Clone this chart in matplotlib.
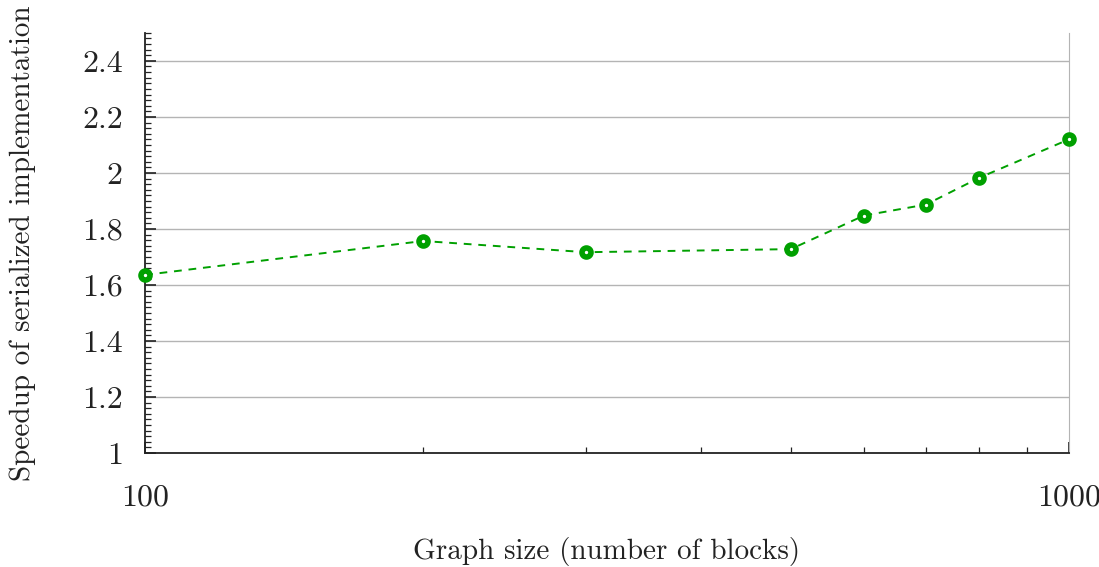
import matplotlib.pyplot as plt
from matplotlib.ticker import FixedLocator, FixedFormatter, MultipleLocator, NullFormatter

plt.rcParams['font.family'] = 'serif'
plt.rcParams['font.serif'] = ['cmr10', 'DejaVu Serif']
plt.rcParams['axes.formatter.use_mathtext'] = True
plt.rcParams['mathtext.fontset'] = 'cm'

# Speedup measured per graph size
graph_size = [100, 200, 300, 500, 600, 700, 800, 1000]
speedup = [1.636, 1.757, 1.717, 1.728, 1.848, 1.887, 1.983, 2.120]

y_ticks = [1, 1.2, 1.4, 1.6, 1.8, 2, 2.2, 2.4]
y_tick_labels = ['1', '1.2', '1.4', '1.6', '1.8', '2', '2.2', '2.4']
x_ticks = [100, 1000]
x_tick_labels = ['100', '1000']
x_minor = [200, 300, 400, 500, 600, 700, 800, 900]

green = '#00a000'
dark = '#222222'

fig = plt.figure(figsize=(10.99, 5.67), dpi=100)
ax = fig.add_axes([0.132, 0.201, 0.8407, 0.741])

ax.plot(graph_size, speedup, linestyle=(0, (4, 3.5)), color=green, linewidth=1.4,
        marker='o', markersize=6.5, markerfacecolor='white', markeredgecolor=green,
        markeredgewidth=4.0, zorder=3, clip_on=False)

ax.set_xscale('log')
ax.set_xlim(100, 1000)
ax.set_ylim(1, 2.5)

ax.xaxis.set_major_locator(FixedLocator(x_ticks))
ax.xaxis.set_major_formatter(FixedFormatter(x_tick_labels))
ax.xaxis.set_minor_locator(FixedLocator(x_minor))
ax.xaxis.set_minor_formatter(NullFormatter())

ax.yaxis.set_major_locator(FixedLocator(y_ticks))
ax.yaxis.set_major_formatter(FixedFormatter(y_tick_labels))
ax.yaxis.set_minor_locator(MultipleLocator(0.02))

ax.grid(axis='y', which='major', color='#b4b4b4', linewidth=1.0)

ax.spines['top'].set_visible(False)
ax.spines['right'].set_color('#b4b4b4')
ax.spines['left'].set_color(dark)
ax.spines['bottom'].set_color(dark)
ax.spines['left'].set_linewidth(1.3)
ax.spines['bottom'].set_linewidth(1.3)

ax.tick_params(axis='y', which='major', direction='in', length=8, width=1.2,
               labelsize=23, pad=16, colors=dark, right=False)
ax.tick_params(axis='y', which='minor', direction='in', length=4, width=0.9,
               colors=dark, right=False)
ax.tick_params(axis='x', which='major', direction='in', length=8, width=1.2,
               labelsize=23, pad=22, colors=dark, top=False)
ax.tick_params(axis='x', which='minor', direction='in', length=4, width=0.9,
               colors=dark, top=False)

ax.set_xlabel('Graph size (number of blocks)', fontsize=21, color=dark)
ax.set_ylabel('Speedup of serialized implementation', fontsize=21, color=dark)
ax.xaxis.set_label_coords(0.5, -0.2)
ax.yaxis.set_label_coords(-0.118, 0.5)

fig.savefig('out.png', dpi=100)
